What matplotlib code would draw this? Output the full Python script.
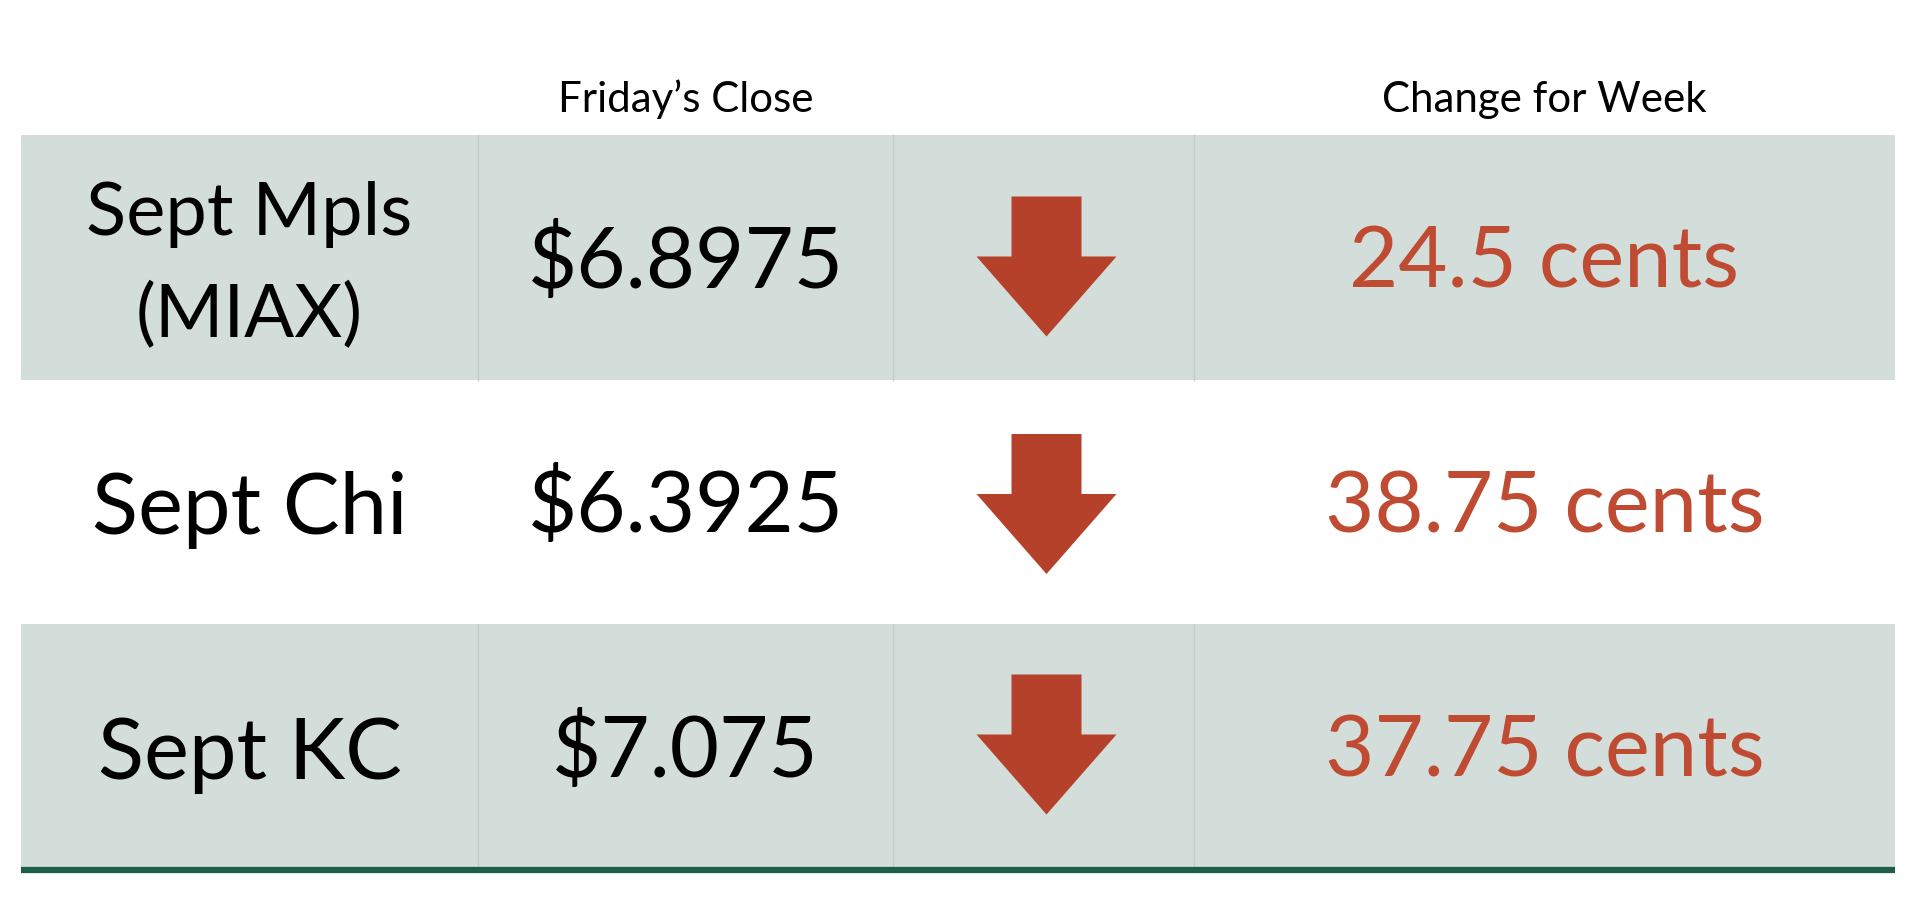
import matplotlib
matplotlib.use("Agg")
import matplotlib.pyplot as plt
from matplotlib.patches import Rectangle, FancyArrow

# datos de la tabla
headers = ["", "Friday\u2019s Close", "", "Change for Week"]
contratos = ["Sept Mpls\n(MIAX)", "Sept Chi", "Sept KC"]
cierre = ["$6.8975", "$6.3925", "$7.075"]
cambio = ["24.5 cents", "38.75 cents", "37.75 cents"]
direccion = ["down", "down", "down"]

# layout en pixeles
col_x = [21, 478, 893, 1194, 1895]
row_y = [135, 380, 624, 869]
fila_gris = [True, False, True]

gris = "#D3DDD9"
linea_col = "#C2CDC9"
rojo = "#B5412A"
rojo_txt = "#BF4B33"
verde = "#1E5E48"

plt.rcParams['font.family'] = ['Lato', 'DejaVu Sans']
CAP = 0.7165  # cap height de Lato

fig = plt.figure(figsize=(19.2, 9.02), dpi=100)
ax = fig.add_axes([0, 0, 1, 1])
ax.set_xlim(0, 1920)
ax.set_ylim(902, 0)
ax.axis('off')


def texto(x, yc, s, px, color="black", pitch=None):
    # centra el texto usando la altura de mayusculas
    lineas = s.split("\n")
    cap = CAP * px
    if pitch is None:
        pitch = px * 1.2
    alto = cap + (len(lineas) - 1) * pitch
    base = yc - alto / 2 + cap
    for i, l in enumerate(lineas):
        ax.text(x, base + i * pitch, l, fontsize=px * 0.72, color=color,
                ha='center', va='baseline')


# encabezados
for j, h in enumerate(headers):
    if h:
        xc = (col_x[j] + col_x[j + 1]) / 2
        texto(xc, 97, h, 42)

for i in range(len(contratos)):
    y0, y1 = row_y[i], row_y[i + 1]
    yc = (y0 + y1) / 2
    if fila_gris[i]:
        ax.add_patch(Rectangle((col_x[0], y0), col_x[-1] - col_x[0], y1 - y0,
                               facecolor=gris, edgecolor='none'))
        for xv in col_x[1:-1]:
            ax.plot([xv, xv], [y0, y1], color=linea_col, lw=1.0)

    centros = [(col_x[j] + col_x[j + 1]) / 2 for j in range(4)]
    if "\n" in contratos[i]:
        texto(centros[0], yc + 2, contratos[i], 74, pitch=102)
    else:
        texto(centros[0], yc + 2, contratos[i], 85)
    texto(centros[1], yc, cierre[i], 85)
    texto(centros[3], yc, cambio[i], 85, color=rojo_txt)

    # flecha
    largo = 140
    ytop = yc - largo / 2 + [9, 2, -2][i]
    if direccion[i] == "down":
        ax.add_patch(FancyArrow(centros[2] + 3, ytop, 0, largo, width=70,
                                head_width=140, head_length=80,
                                length_includes_head=True,
                                facecolor=rojo, edgecolor='none'))

# linea inferior
ax.plot([col_x[0], col_x[-1]], [row_y[-1] + 1, row_y[-1] + 1], color=verde,
        lw=4.5, solid_capstyle='butt')

fig.savefig("out.png", dpi=100, facecolor="white")
